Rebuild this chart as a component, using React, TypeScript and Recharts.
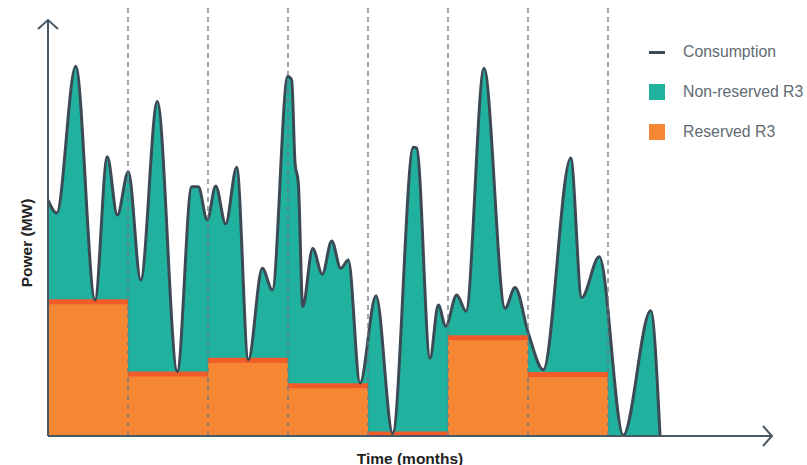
import React from "react";
import {
  Area,
  ComposedChart,
  Legend,
  Line,
  ReferenceLine,
  XAxis,
  YAxis,
} from "recharts";

// time in months, consumption in MW (relative scale 0..100)
const consumptionMonths = [
  0, 0.109, 0.346, 0.588, 0.741, 0.866, 1.004, 1.159, 1.366, 1.616, 1.796, 1.879,
  1.991, 2.096, 2.221, 2.359, 2.504, 2.679, 2.804, 2.996, 3.046, 3.088, 3.129,
  3.184, 3.309, 3.429, 3.546, 3.659, 3.754, 3.9, 4.1, 4.309, 4.566, 4.609, 4.775,
  4.879, 4.971, 5.109, 5.225, 5.45, 5.713, 5.838, 6.004, 6.191, 6.534, 6.671,
  6.891, 7.191, 7.534, 7.65,
];
const consumptionMW = [
  56.7, 53.6, 88.9, 32.7, 67.1, 53.1, 63.5, 37.5, 80.4, 15.5, 59.9, 59.9, 51.9,
  60.1, 51.0, 64.6, 18.3, 40.3, 35.1, 86.5, 85.6, 65.6, 60.8, 31.1, 45.1, 38.9,
  46.9, 40.3, 42.3, 12.7, 33.7, 0.6, 69.4, 69.2, 18.7, 31.5, 26.4, 33.9, 30.0,
  88.4, 30.7, 35.7, 24.7, 15.9, 66.8, 33.3, 43.1, 0.2, 30.1, 0.2,
];

// reserved R3 per month (month 0..6)
const reservedMW = [32.3, 14.9, 18.2, 12.1, 0.5, 23.6, 14.8];
const monthBoundaries = [1, 2, 3, 4, 5, 6, 7];

const consumptionData = consumptionMonths.map((m, i) => ({ m, c: consumptionMW[i] }));
const reservedData = [
  ...reservedMW.map((r, i) => ({ m: i, r })),
  { m: reservedMW.length, r: reservedMW[reservedMW.length - 1] },
];
const reservedTops = reservedMW.flatMap((r, i) => [
  { m: i, r },
  { m: i + 1, r },
  { m: i + 1, r: null },
]);

const AXIS = "#4a5863";
const OUTLINE = "#3b4a55";
const TEAL = "#20b29e";
const ORANGE = "#f58634";
const RED = "#f15a29";

const legendItems = [
  { label: "Consumption", kind: "line", color: OUTLINE },
  { label: "Non-reserved R3", kind: "box", color: TEAL },
  { label: "Reserved R3", kind: "box", color: ORANGE },
];

const LegendBox = () => (
  <div style={{ position: "relative", width: 160, height: 110 }}>
    {legendItems.map((it, i) => (
      <div
        key={it.label}
        style={{
          position: "absolute",
          top: i * 40,
          left: 0,
          height: 24,
          display: "flex",
          alignItems: "center",
          whiteSpace: "nowrap",
        }}
      >
        <div style={{ width: 16, display: "flex", alignItems: "center", justifyContent: "center" }}>
          {it.kind === "line" ? (
            <div style={{ width: 16, height: 3, background: it.color }} />
          ) : (
            <div style={{ width: 16, height: 16, background: it.color }} />
          )}
        </div>
        <span style={{ marginLeft: 18, fontSize: 15.8, color: "#5f6b73" }}>{it.label}</span>
      </div>
    ))}
  </div>
);

export default function App() {
  return (
    <div style={{ position: "absolute", left: 0, top: 0, fontFamily: '"Liberation Sans", Arial, sans-serif' }}>
      <ComposedChart width={807} height={465} margin={{ top: 20, right: 35, left: 47, bottom: 28 }}>
        <defs>
          <marker
            id="axisArrow"
            markerUnits="userSpaceOnUse"
            markerWidth={14}
            markerHeight={24}
            refX={11}
            refY={12}
            orient="auto-start-reverse"
            overflow="visible"
          >
            <path d="M2,2 L11,12 L2,22" fill="none" stroke={AXIS} strokeWidth={2} />
          </marker>
        </defs>
        <XAxis
          type="number"
          dataKey="m"
          domain={[0, 9.05]}
          allowDataOverflow
          height={1}
          tick={false}
          tickLine={false}
          axisLine={{ stroke: AXIS, strokeWidth: 2, markerEnd: "url(#axisArrow)" }}
          label={{
            content: ({ viewBox }: any) => (
              <text
                x={viewBox.x + viewBox.width / 2}
                y={viewBox.y + 22}
                textAnchor="middle"
                dominantBaseline="central"
                fontSize={15.5}
                fontWeight={700}
                fill="#222"
              >
                Time (months)
              </text>
            ),
          }}
        />
        <YAxis
          type="number"
          domain={[0, 100]}
          allowDataOverflow
          width={1}
          tick={false}
          tickLine={false}
          axisLine={{ stroke: AXIS, strokeWidth: 2, markerStart: "url(#axisArrow)" }}
          label={{
            content: ({ viewBox }: any) => {
              const x = viewBox.x - 21;
              const y = viewBox.y + viewBox.height / 2 + 15;
              return (
                <text
                  x={x}
                  y={y}
                  transform={`rotate(-90 ${x} ${y})`}
                  textAnchor="middle"
                  dominantBaseline="central"
                  fontSize={15.5}
                  fontWeight={700}
                  fill="#222"
                >
                  Power (MW)
                </text>
              );
            },
          }}
        />
        <Legend
          verticalAlign="middle"
          align="center"
          layout="horizontal"
          content={<LegendBox />}
          wrapperStyle={{ top: 40, left: 649, width: 160, height: 110 }}
        />
        <Area
          data={consumptionData}
          dataKey="c"
          type="monotone"
          fill={TEAL}
          fillOpacity={1}
          stroke="none"
          isAnimationActive={false}
        />
        <Area
          data={reservedData}
          dataKey="r"
          type="stepAfter"
          fill={ORANGE}
          fillOpacity={1}
          stroke="none"
          isAnimationActive={false}
        />
        <Line
          data={reservedTops}
          dataKey="r"
          type="linear"
          stroke={RED}
          strokeWidth={5}
          dot={false}
          activeDot={false}
          isAnimationActive={false}
        />
        <Line
          data={consumptionData}
          dataKey="c"
          type="monotone"
          stroke={OUTLINE}
          strokeWidth={3}
          dot={false}
          activeDot={false}
          isAnimationActive={false}
        />
        {monthBoundaries.map((m) => (
          <ReferenceLine
            key={m}
            segment={[
              { x: m, y: 0 },
              { x: m, y: 103.6 },
            ]}
            ifOverflow="visible"
            stroke="#6b7882"
            strokeWidth={1.3}
            strokeDasharray="5 4"
          />
        ))}
      </ComposedChart>
    </div>
  );
}
